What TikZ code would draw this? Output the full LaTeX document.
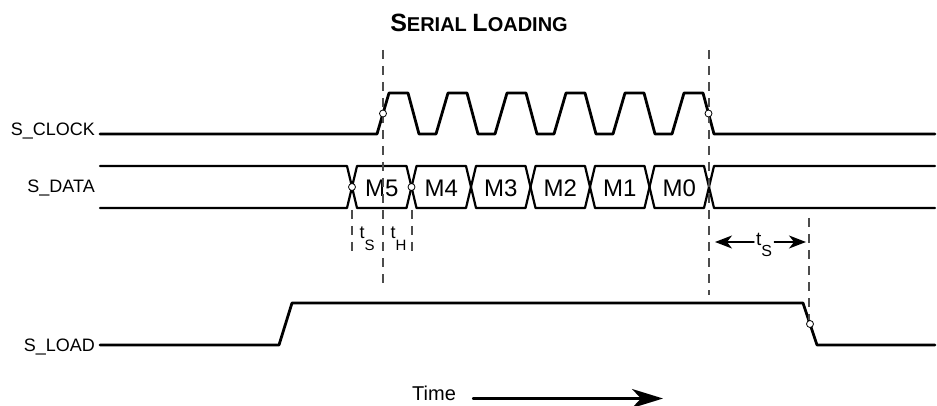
\documentclass[tikz,border=0pt]{standalone}
\usepackage{fontspec}
\setmainfont{Liberation Sans}
\usetikzlibrary{arrows.meta}
\usetikzlibrary{calc}
\newcommand{\sz}[1]{\fontsize{#1}{#1}\selectfont}
\newcommand{\tsub}[2]{t\raisebox{-12pt}{\sz{#1}#2}}

\begin{document}
\begin{tikzpicture}[x = 1pt, y = -1pt, line cap = round, line join = round,
  sig/.style = {line width = 2.8pt},
  bus/.style = {line width = 2.2pt},
  guide/.style = {line width = 1.5pt, draw = black!70, line cap = butt,
    dash pattern = on 9pt off 7pt},
  probe/.style = {circle, draw, fill = white, line width = 0.8pt,
    inner sep = 0pt, minimum size = 7pt},
  lbl/.style = {inner sep = 0pt, anchor = base east, font = \sz{18}}]
  \useasboundingbox (0, 0) rectangle (937, 406);

  \node[inner sep = 0pt, anchor = base, font = \bfseries] (title) at (479, 31.7)
    {\sz{25}S\sz{20}ERIAL \sz{25}L\sz{20}OADING};

  \node[lbl] (clk) at (95, 136) {S\_CLOCK};
  \node[lbl] (dat) at (95, 192.7) {S\_DATA};
  \node[lbl] (ld) at (95, 351.5) {S\_LOAD};

  \draw[sig] (100, 134) -- (377, 134)
    \foreach \k in {0, ..., 5} {-- ++(12, -41) -- ++(19, 0) -- ++(11, 41) -- ++(17, 0)}
    -- (935, 134);

  \draw[bus] (100, 166) -- (347, 166) -- (352, 187) -- (347, 208) -- (100, 208);
  \foreach \lab [count = \i from 0] in {M5, M4, M3, M2, M1, M0} {
    \pgfmathsetmacro{\cx}{352 + 59.5 * \i}
    \draw[bus] (\cx, 187) -- (\cx + 5, 166) -- (\cx + 54.5, 166) -- (\cx + 59.5, 187)
      -- (\cx + 54.5, 208) -- (\cx + 5, 208) -- cycle;
    \node[font = \sz{24}, inner sep = 0pt, anchor = base] (\lab) at (\cx + 29.75, 196.5) {\lab};
  }
  \draw[bus] (935, 166) -- (714, 166) -- (709, 187) -- (714, 208) -- (935, 208);

  \draw[sig] (100, 345) -- (279, 345) -- (292, 303) -- (803, 303) -- (817, 345) -- (935, 345);

  \draw[guide] (383, 50) -- (383, 290);
  \draw[guide] (709, 50) -- (709, 295);
  \draw[guide] (809, 218) -- (809, 320);
  \draw[guide] (352, 210) -- (352, 253);
  \draw[guide] (412, 210) -- (412, 253);

  \node[probe] (p1) at (383, 113.5) {};
  \node[probe] (p2) at (708.5, 113.5) {};
  \node[probe] (p3) at (352, 187) {};
  \node[probe] (p4) at (411.5, 187) {};
  \node[probe] (p5) at (810, 324) {};

  \node[inner sep = 0pt, anchor = base west, font = \sz{18}] (ts) at (359.5, 239) {\tsub{15}{S}};
  \node[inner sep = 0pt, anchor = base west, font = \sz{18}] (th) at (390.5, 239) {\tsub{15}{H}};
  \node[inner sep = 2pt, anchor = base west, font = \sz{19}] (ts2) at (754, 245) {\tsub{16}{S}};

  \coordinate (tsl) at (715, 242);
  \coordinate (tsr) at (806, 242);
  \draw[line width = 1.4pt, -{Stealth[length = 17pt, width = 13pt, inset = 5pt]}]
    (ts2.west |- tsl) -- (tsl);
  \draw[line width = 1.4pt, -{Stealth[length = 17pt, width = 13pt, inset = 5pt]}]
    (ts2.east |- tsr) -- (tsr);

  \node[inner sep = 0pt, anchor = base west, font = \sz{20}] (time) at (412, 400) {Time};
  \coordinate (tend) at (663, 398.5);
  \draw[line width = 2.6pt, -{Stealth[length = 31pt, width = 19pt, inset = 9pt]}]
    ($(time.base east) + (17, -1.5)$) -- (tend);
\end{tikzpicture}
\end{document}
